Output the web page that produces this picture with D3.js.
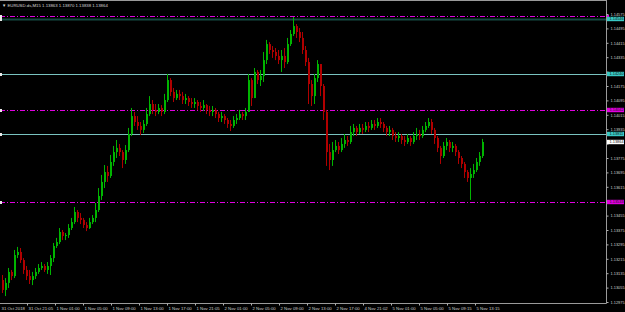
<!DOCTYPE html>
<html>
<head>
<meta charset="utf-8">
<script src="https://cdnjs.cloudflare.com/ajax/libs/d3/7.8.5/d3.min.js"></script>
<style>
html, body { margin: 0; padding: 0; background: #000; overflow: hidden; }
svg { display: block; }
</style>
</head>
<body>
<script>
var symbolName = 'EURUSD.ds,M15';
var headerQuote = ['1.13863', '1.13870', '1.13838', '1.13864'];

var timeLabels = ['31 Oct 2018', '31 Oct 21:05', '1 Nov 01:00', '1 Nov 05:00', '1 Nov 09:00', '1 Nov 13:00',
                  '1 Nov 17:00', '1 Nov 21:05', '2 Nov 01:00', '2 Nov 05:00', '2 Nov 09:00', '2 Nov 13:00',
                  '2 Nov 17:00', '4 Nov 21:02', '5 Nov 01:00', '5 Nov 05:00', '5 Nov 09:15', '5 Nov 13:15'];

var priceTicks = [1.12975, 1.13055, 1.13135, 1.13215, 1.13295, 1.13375, 1.13455, 1.13535, 1.13615, 1.13695,
                  1.13775, 1.13855, 1.13935, 1.14015, 1.14095, 1.14175, 1.14255, 1.14335, 1.14415, 1.14495, 1.14575];

var firstOpen = 1.13097;

var closes = [
  1.13042,1.13081,1.13142,1.13119,1.13236,1.13253,1.13208,1.13153,1.13119,1.13097,
  1.13119,1.13142,1.13164,1.13175,1.13153,1.13175,1.13219,1.13286,1.13308,1.13364,
  1.13342,1.13347,1.13386,1.13419,1.13475,1.13442,1.13431,1.13403,1.13386,1.13419,
  1.13442,1.13486,1.13564,1.13642,1.13697,1.13675,1.13753,1.13808,1.13831,1.13808,
  1.13764,1.13819,1.13908,1.14008,1.13975,1.13953,1.13931,1.13964,1.14019,1.14075,
  1.14042,1.14031,1.14053,1.14031,1.14097,1.14208,1.14142,1.14108,1.14131,1.14119,
  1.14097,1.14108,1.14086,1.14075,1.14086,1.14064,1.14053,1.14069,1.14042,1.14031,
  1.14042,1.14019,1.13997,1.14008,1.13986,1.13964,1.13953,1.13986,1.13997,1.14019,
  1.14008,1.14031,1.14208,1.14108,1.14253,1.14208,1.14231,1.14319,1.14408,1.14375,
  1.14364,1.14342,1.14319,1.14342,1.14308,1.14408,1.14464,1.14508,1.14475,1.14442,
  1.14375,1.14308,1.14186,1.14119,1.14219,1.14297,1.14175,1.14031,1.13808,1.13764,
  1.13819,1.13842,1.13819,1.13853,1.13875,1.13864,1.13919,1.13942,1.13919,1.13942,
  1.13931,1.13953,1.13942,1.13964,1.13953,1.13975,1.13964,1.13942,1.13919,1.13931,
  1.13897,1.13886,1.13897,1.13875,1.13864,1.13886,1.13864,1.13897,1.13908,1.13897,
  1.13931,1.13953,1.13975,1.13931,1.13886,1.13831,1.13786,1.13842,1.13864,1.13831,
  1.13842,1.13808,1.13775,1.13742,1.13697,1.13664,1.13686,1.13708,1.13753,1.13786,
  1.13864
];

var highs = [
  1.13125,1.13108,1.13164,1.13153,1.13264,1.13281,1.13275,1.13219,1.13175,1.13153,
  1.13142,1.13164,1.13186,1.13197,1.13186,1.13197,1.13236,1.13303,1.13331,1.13386,
  1.13375,1.13358,1.13408,1.13442,1.13503,1.13486,1.13469,1.13442,1.13419,1.13442,
  1.13458,1.13525,1.13608,1.13681,1.13736,1.13731,1.13792,1.13842,1.13875,1.13853,
  1.13819,1.13847,1.13942,1.14053,1.14031,1.14008,1.13975,1.13986,1.14053,1.14119,
  1.14097,1.14075,1.14075,1.14069,1.14131,1.14242,1.14219,1.14164,1.14153,1.14153,
  1.14142,1.14131,1.14119,1.14108,1.14108,1.14097,1.14086,1.14097,1.14075,1.14064,
  1.14064,1.14053,1.14031,1.14031,1.14019,1.13997,1.13986,1.14008,1.14019,1.14042,
  1.14031,1.14053,1.14242,1.14219,1.14275,1.14264,1.14264,1.14364,1.14431,1.14419,
  1.14397,1.14386,1.14375,1.14375,1.14386,1.14442,1.14486,1.14558,1.14519,1.14497,
  1.14475,1.14397,1.14331,1.14208,1.14242,1.14319,1.14286,1.14186,1.14042,1.13853,
  1.13864,1.13875,1.13864,1.13886,1.13908,1.13897,1.13953,1.13964,1.13953,1.13964,
  1.13964,1.13975,1.13975,1.13986,1.13986,1.13997,1.13997,1.13975,1.13953,1.13953,
  1.13942,1.13919,1.13919,1.13908,1.13897,1.13908,1.13897,1.13919,1.13942,1.13931,
  1.13953,1.13975,1.13997,1.13992,1.13942,1.13897,1.13842,1.13864,1.13886,1.13875,
  1.13864,1.13853,1.13819,1.13786,1.13753,1.13708,1.13719,1.13742,1.13775,1.13808,
  1.13881
];

var lows = [
  1.13025,1.13008,1.13053,1.13097,1.13108,1.13219,1.13192,1.13131,1.13097,1.13075,
  1.13069,1.13103,1.13131,1.13153,1.13142,1.13131,1.13125,1.13197,1.13275,1.13297,
  1.13319,1.13319,1.13331,1.13375,1.13408,1.13419,1.13408,1.13386,1.13369,1.13381,
  1.13408,1.13419,1.13475,1.13542,1.13608,1.13642,1.13664,1.13731,1.13775,1.13786,
  1.13719,1.13742,1.13808,1.13897,1.13953,1.13931,1.13903,1.13914,1.13953,1.14008,
  1.14019,1.14008,1.14019,1.14008,1.14019,1.14086,1.14119,1.14086,1.14097,1.14097,
  1.14075,1.14075,1.14064,1.14053,1.14053,1.14042,1.14031,1.14036,1.14019,1.14008,
  1.14008,1.13997,1.13975,1.13975,1.13964,1.13942,1.13925,1.13942,1.13964,1.13986,
  1.13986,1.13986,1.14031,1.14064,1.14108,1.14186,1.14175,1.14197,1.14297,1.14353,
  1.14331,1.14319,1.14297,1.14253,1.14275,1.14297,1.14397,1.14453,1.14442,1.14419,
  1.14353,1.14286,1.14075,1.14064,1.14075,1.14197,1.14119,1.13986,1.13731,1.13708,
  1.13731,1.13808,1.13797,1.13808,1.13831,1.13842,1.13853,1.13897,1.13897,1.13908,
  1.13908,1.13919,1.13919,1.13931,1.13931,1.13942,1.13942,1.13919,1.13897,1.13897,
  1.13875,1.13864,1.13864,1.13853,1.13842,1.13853,1.13842,1.13853,1.13875,1.13875,
  1.13886,1.13919,1.13942,1.13908,1.13853,1.13808,1.13742,1.13775,1.13819,1.13808,
  1.13808,1.13786,1.13742,1.13719,1.13664,1.13642,1.13542,1.13664,1.13697,1.13731,
  1.13775
];

// horizontal levels drawn on the chart
var levelPrices = [1.14564, 1.14546, 1.14240, 1.14042, 1.13911, 1.13533];
var levelKinds  = ['magenta', 'teal', 'cyan', 'magenta', 'cyan', 'magenta'];

var w = 625;
var h = 312;
var plotRight = 606;
var plotBottom = 303;
var fontFamily = '"Liberation Sans", Arial, sans-serif';

var svg = d3.select('body').append('svg')
            .attr('width', w)
            .attr('height', h)
            .style('background', '#000');

var x = d3.scaleLinear()
          .domain([0, closes.length - 1])
          .range([2, 482]);

var y = d3.scaleLinear()
          .domain([1.12975, 1.14575])
          .range([302, 14]);

var xTime = d3.scalePoint()
              .domain(timeLabels)
              .range([-1, 475]);

svg.append('clipPath').attr('id', 'plot')
   .append('rect').attr('x', 0).attr('y', 1).attr('width', plotRight).attr('height', plotBottom - 1);

var plot = svg.append('g').attr('clip-path', 'url(#plot)');

// levels
var lineColor = { magenta: '#e000e0', teal: '#144a42', cyan: '#79c2bf' };
var levels = levelPrices.map(function(p, i){ return { price: p, kind: levelKinds[i] }; });

plot.selectAll('line.level')
    .data(levels)
    .enter()
    .append('line')
    .attr('class', 'level')
    .attr('x1', 0)
    .attr('x2', plotRight)
    .attr('y1', function(d){ return Math.round(y(d.price)) + 0.5; })
    .attr('y2', function(d){ return Math.round(y(d.price)) + 0.5; })
    .attr('stroke', function(d){ return lineColor[d.kind]; })
    .attr('stroke-width', function(d){ return d.kind === 'teal' ? 2 : 1; })
    .attr('stroke-dasharray', function(d){ return d.kind === 'magenta' ? '5,2,1,2' : null; });

plot.selectAll('rect.anchor')
    .data(levels)
    .enter()
    .append('rect')
    .attr('class', 'anchor')
    .attr('x', 0)
    .attr('y', function(d){ return Math.round(y(d.price)) - 1; })
    .attr('width', 2)
    .attr('height', 3)
    .attr('fill', '#e8e8e8');

// candles
var bars = closes.map(function(c, i){
  var o = i === 0 ? firstOpen : closes[i - 1];
  return { i: i, o: o, c: c, h: Math.max(highs[i], o, c), l: Math.min(lows[i], o, c) };
});

var bull = '#00b400';
var bear = '#b00000';

plot.selectAll('line.wick')
    .data(bars)
    .enter()
    .append('line')
    .attr('class', 'wick')
    .attr('x1', function(d){ return Math.round(x(d.i)) + 0.5; })
    .attr('x2', function(d){ return Math.round(x(d.i)) + 0.5; })
    .attr('y1', function(d){ return y(d.h); })
    .attr('y2', function(d){ return y(d.l); })
    .attr('stroke', function(d){ return d.c >= d.o ? bull : bear; })
    .attr('stroke-width', 1);

plot.selectAll('rect.body')
    .data(bars)
    .enter()
    .append('rect')
    .attr('class', 'body')
    .attr('x', function(d){ return Math.round(x(d.i)); })
    .attr('width', 2)
    .attr('y', function(d){ return y(Math.max(d.o, d.c)); })
    .attr('height', function(d){ return Math.max(1, Math.abs(y(d.o) - y(d.c))); })
    .attr('fill', function(d){ return d.c >= d.o ? bull : bear; });

// frame
svg.append('line').attr('x1', 0).attr('x2', plotRight + 0.5).attr('y1', 0.5).attr('y2', 0.5).attr('stroke', '#9a9a9a');
svg.append('line').attr('x1', plotRight + 0.5).attr('x2', plotRight + 0.5).attr('y1', 0).attr('y2', plotBottom + 0.5).attr('stroke', '#9a9a9a');
svg.append('line').attr('x1', 0).attr('x2', plotRight + 0.5).attr('y1', plotBottom + 0.5).attr('y2', plotBottom + 0.5).attr('stroke', '#9a9a9a');

// price labels for levels and bid (the top magenta one sits under the teal one)
var boxColor = { magenta: '#e000e0', teal: '#38c8c4', cyan: '#38c8c4' };
var boxes = levels.filter(function(d, i){ return i !== 0; })
                  .map(function(d){ return { price: d.price, fill: boxColor[d.kind] }; });
boxes.push({ price: closes[closes.length - 1], fill: '#ffffff' });

// price axis
var yAxis = d3.axisRight(y)
              .tickValues(priceTicks)
              .tickSize(2)
              .tickPadding(2)
              .tickFormat(d3.format('.5f'));

var gy = svg.append('g')
            .attr('transform', 'translate(' + (plotRight + 0.5) + ',0)')
            .call(yAxis);
gy.select('.domain').remove();
gy.selectAll('.tick line').attr('stroke', '#b0b0b0');
gy.selectAll('.tick text')
  .attr('fill', '#cfcfcf')
  .style('font-size', '3.9px')
  .style('font-family', fontFamily)
  .style('display', function(t){
    var hit = boxes.some(function(b){ return Math.abs(y(t) - y(b.price)) < 3.6; });
    return hit ? 'none' : null;
  });

// time axis
var xAxis = d3.axisBottom(xTime)
              .tickSize(2)
              .tickPadding(1);

var gx = svg.append('g')
            .attr('transform', 'translate(0,' + (plotBottom + 0.5) + ')')
            .call(xAxis);
gx.select('.domain').remove();
gx.selectAll('.tick line').attr('stroke', '#b0b0b0');
gx.selectAll('.tick text')
  .attr('text-anchor', 'start')
  .attr('x', function(d){ return xTime(d) < 1 ? 1 - xTime(d) : 1; })
  .attr('fill', '#cfcfcf')
  .style('font-size', '4.3px')
  .style('font-family', fontFamily);

// small magenta marker of the top level, peeking out left of the teal label
svg.append('rect')
   .attr('x', plotRight + 1)
   .attr('y', Math.round(y(levelPrices[0])) - 1)
   .attr('width', 2)
   .attr('height', 2)
   .attr('fill', '#e000e0');

var gb = svg.selectAll('g.pbox')
            .data(boxes)
            .enter()
            .append('g')
            .attr('class', 'pbox')
            .attr('transform', function(d){ return 'translate(' + (plotRight + 1) + ',' + Math.round(y(d.price)) + ')'; });

gb.append('rect')
  .attr('x', 0)
  .attr('y', -2.2)
  .attr('width', 17)
  .attr('height', 4.4)
  .attr('fill', function(d){ return d.fill; });

gb.append('text')
  .attr('x', 2.5)
  .attr('y', 1.4)
  .text(function(d){ return d3.format('.5f')(d.price); })
  .attr('fill', '#101010')
  .style('font-size', '3.9px')
  .style('font-family', fontFamily);

// header
svg.append('text')
   .attr('x', 2)
   .attr('y', 7)
   .text('\u25BC ' + symbolName + '  ' + headerQuote.join(' '))
   .attr('fill', '#d8d8d8')
   .style('font-size', '4.3px')
   .style('font-family', fontFamily);
</script>
</body>
</html>
